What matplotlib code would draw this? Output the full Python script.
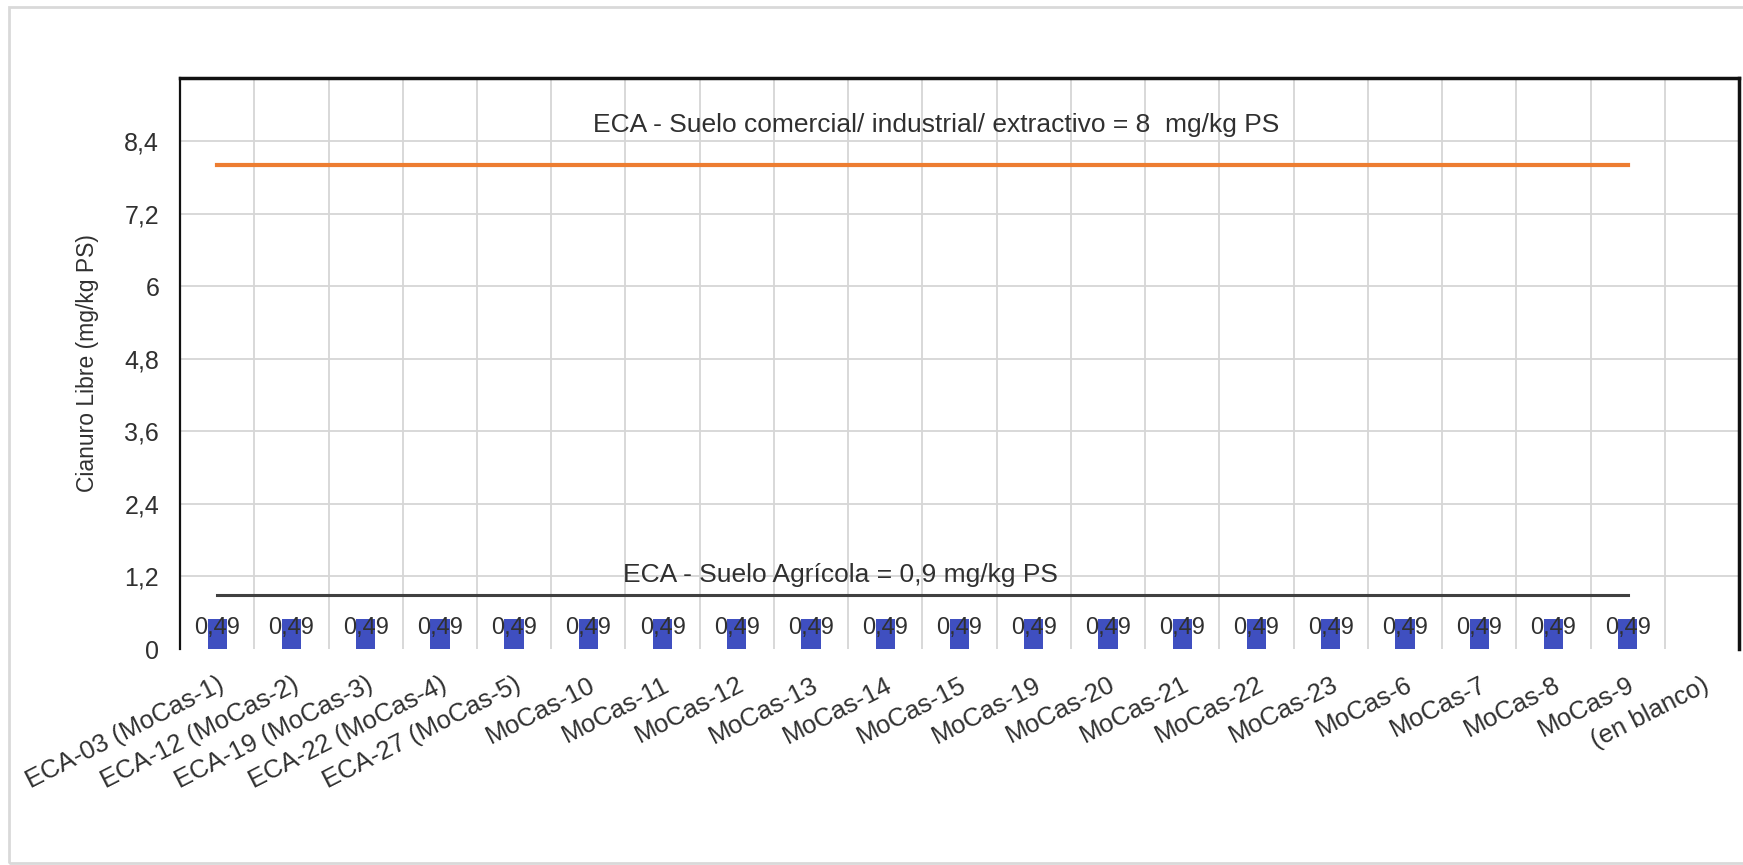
import matplotlib

matplotlib.use("Agg")
import matplotlib.pyplot as plt
from matplotlib.patches import Rectangle
import numpy as np

# ---- data
muestras = ["ECA-03 (MoCas-1)", "ECA-12 (MoCas-2)", "ECA-19 (MoCas-3)",
            "ECA-22 (MoCas-4)", "ECA-27 (MoCas-5)", "MoCas-10", "MoCas-11",
            "MoCas-12", "MoCas-13", "MoCas-14", "MoCas-15", "MoCas-19",
            "MoCas-20", "MoCas-21", "MoCas-22", "MoCas-23", "MoCas-6",
            "MoCas-7", "MoCas-8", "MoCas-9", "(en blanco)"]
cianuro = [0.49] * 20 + [np.nan]
eca_industrial = [8.0] * 20
eca_agricola = [0.9] * 20
yticks = [0, 1.2, 2.4, 3.6, 4.8, 6, 7.2, 8.4]

plt.rcParams["font.family"] = ["Liberation Sans", "DejaVu Sans"]
TXT = "#303030"

fig = plt.figure(figsize=(17.43, 8.65), dpi=100)
ax = fig.add_axes([0.1033, 0.2497, 0.8944, 0.6601])

x = np.arange(len(muestras))
xs = np.arange(len(eca_industrial))

# gridlines at category boundaries + value ticks
for b in np.arange(len(muestras) + 1) - 0.5:
    ax.axvline(b, color="#d6d6d6", lw=1.3, zorder=0)
for t in yticks[1:]:
    ax.axhline(t, color="#d6d6d6", lw=1.3, zorder=0)

ax.plot(xs, eca_industrial, color="#ED7D31", lw=3, zorder=2)
ax.plot(xs, eca_agricola, color="#404040", lw=2.2, zorder=2)

ax.bar(x, cianuro, width=0.26, color="#3F4FC0", zorder=3)
for xi, v in zip(x, cianuro):
    if np.isnan(v):
        continue
    ax.annotate(f"{v:.2f}".replace(".", ","), (xi, v), xytext=(0, -6),
                textcoords="offset points", ha="center", va="center",
                fontsize=17, color=TXT, zorder=4)

ax.text(9.68, 8.67, "ECA - Suelo comercial/ industrial/ extractivo = 8  mg/kg PS",
        ha="center", va="center", fontsize=19, color=TXT)
ax.text(8.40, 1.22, "ECA - Suelo Agrícola = 0,9 mg/kg PS",
        ha="center", va="center", fontsize=19, color=TXT)

ax.set_xlim(-0.5, 20.5)
ax.set_ylim(0, 9.44)
ax.set_yticks(yticks)
ax.set_yticklabels([f"{t:g}".replace(".", ",") for t in yticks])
ax.set_xticks(x)
ax.set_xticklabels(muestras, rotation=27, ha="right", va="top",
                   rotation_mode="anchor")
ax.tick_params(axis="y", length=0, pad=15, labelsize=18, labelcolor=TXT)
ax.tick_params(axis="x", length=0, pad=17, labelsize=18.5, labelcolor=TXT)

ax.set_ylabel("Cianuro Libre (mg/kg PS)", fontsize=16.5, color=TXT)
ax.yaxis.set_label_coords(-0.052, 0.5)

ax.spines["bottom"].set_visible(False)
ax.spines["left"].set_linewidth(1.6)
ax.spines["top"].set_linewidth(2.5)
ax.spines["right"].set_linewidth(2.5)
for s in ("left", "top", "right"):
    ax.spines[s].set_color("#111111")

# light chart-area border
fig.add_artist(Rectangle((0.0052, 0.0023), 1.2, 0.9896, transform=fig.transFigure,
                         fill=False, edgecolor="#d9d9d9", lw=2))

fig.savefig("out.png", dpi=100)
